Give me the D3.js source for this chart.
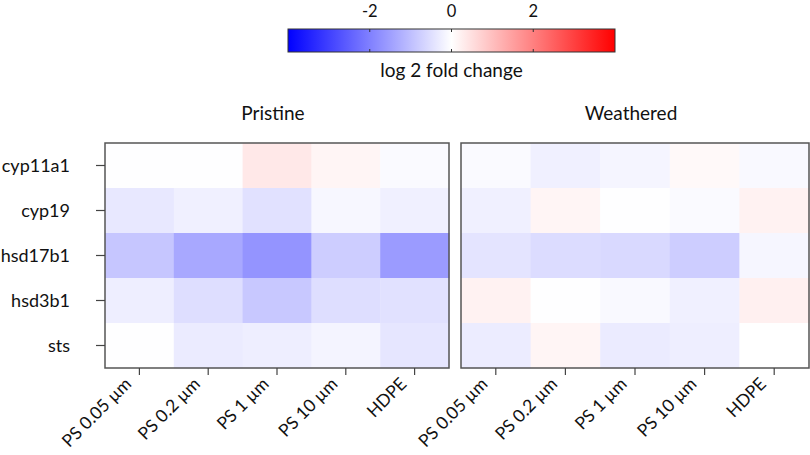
<!DOCTYPE html>
<html><head><meta charset="utf-8">
<script src="https://cdn.jsdelivr.net/npm/d3@7"></script>
<style>body{margin:0;background:#fff}svg{display:block}text{font-family:Lato,"Open Sans",sans-serif;fill:#111}</style>
</head><body><svg id="c" width="810" height="455"></svg>
<script>
const genes = ["cyp11a1","cyp19","hsd17b1","hsd3b1","sts"];
const particles = ["PS 0.05 µm","PS 0.2 µm","PS 1 µm","PS 10 µm","HDPE"];
const panels = ["Pristine","Weathered"];
const pristine = [
  [-0.02,-0.02, 0.36, 0.15,-0.08],
  [-0.36,-0.24,-0.47,-0.12,-0.24],
  [-0.90,-1.36,-1.68,-0.78,-1.57],
  [-0.27,-0.52,-0.86,-0.52,-0.47],
  [-0.02,-0.31,-0.27,-0.17,-0.39]
];
const weathered = [
  [-0.08,-0.24,-0.16, 0.10,-0.10],
  [-0.24, 0.15,-0.02,-0.08, 0.20],
  [-0.42,-0.55,-0.60,-0.78,-0.14],
  [ 0.20,-0.02,-0.10,-0.24, 0.23],
  [-0.30, 0.15,-0.31,-0.27, 0.00]
];
const colorTicks = [-2,0,2];
const legendTitle = "log 2 fold change";

const svg = d3.select("#c");
const color = d3.scaleLinear().domain([-4,0,4]).range(["#0000ff","#ffffff","#ff0000"]).clamp(true);

// colorbar
const cb = {x0:288,x1:615,y0:29,y1:52};
const cx = d3.scaleLinear().domain([-4,4]).range([cb.x0,cb.x1]);
const defs = svg.append("defs");
const grad = defs.append("linearGradient").attr("id","g");
d3.range(-4,4.01,0.5).forEach(v=>grad.append("stop").attr("offset",(v+4)/8).attr("stop-color",color(v)));
svg.append("rect").attr("x",cb.x0).attr("y",cb.y0).attr("width",cb.x1-cb.x0).attr("height",cb.y1-cb.y0)
  .attr("fill","url(#g)").attr("stroke","#333").attr("stroke-width",1);
colorTicks.forEach(t=>{
  svg.append("line").attr("x1",cx(t)).attr("x2",cx(t)).attr("y1",cb.y0).attr("y2",cb.y0+3).attr("stroke","#333");
  svg.append("line").attr("x1",cx(t)).attr("x2",cx(t)).attr("y1",cb.y1-3).attr("y2",cb.y1).attr("stroke","#333");
  svg.append("text").attr("x",cx(t)).attr("y",16.5).attr("text-anchor","middle").attr("font-size",16.5).text(t===0?"0":(t<0?"-"+Math.abs(t):t));
});
svg.append("text").attr("x",cx(0)).attr("y",76.5).attr("text-anchor","middle").attr("font-size",19).text(legendTitle);

// panels
const geom = [{x0:105,x1:449},{x0:461,x1:809}];
const y = d3.scaleBand().domain(genes).range([143,368]);
[pristine,weathered].forEach((data,pi)=>{
  const g = geom[pi];
  const x = d3.scaleBand().domain(particles).range([g.x0,g.x1]);
  const gp = svg.append("g");
  data.forEach((row,ri)=>row.forEach((v,ci)=>{
    gp.append("rect").attr("x",x(particles[ci])).attr("y",y(genes[ri]))
      .attr("width",x.bandwidth()+0.5).attr("height",y.bandwidth()+0.5).attr("fill",color(v));
  }));
  gp.append("rect").attr("x",g.x0).attr("y",143).attr("width",g.x1-g.x0).attr("height",368-143)
    .attr("fill","none").attr("stroke","#555").attr("stroke-width",1.5);
  svg.append("text").attr("x",(g.x0+g.x1)/2-4).attr("y",120).attr("text-anchor","middle").attr("font-size",19).text(panels[pi]);
  // x ticks
  particles.forEach(p=>{
    const px = x(p)+x.bandwidth()/2;
    svg.append("line").attr("x1",px).attr("x2",px).attr("y1",368).attr("y2",375).attr("stroke","#444").attr("stroke-width",1.2);
    svg.append("text").attr("transform",`translate(${px-7},${385}) rotate(-45)`).attr("text-anchor","end").attr("font-size",17.5).text(p);
  });
  if(pi===0){
    genes.forEach(gn=>{
      const py = y(gn)+y.bandwidth()/2;
      svg.append("line").attr("x1",96).attr("x2",105).attr("y1",py).attr("y2",py).attr("stroke","#444").attr("stroke-width",1.2);
      svg.append("text").attr("x",70).attr("y",py+6).attr("text-anchor","end").attr("font-size",18).text(gn);
    });
  }
});
</script></body></html>
